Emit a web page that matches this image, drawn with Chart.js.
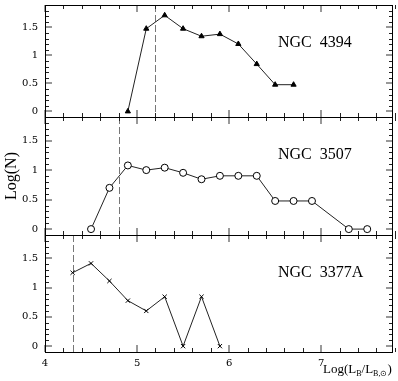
<!DOCTYPE html>
<html>
<head>
<meta charset="UTF-8">
<title>Log(N) vs Log(L_B)</title>
<script src="https://cdn.jsdelivr.net/npm/chart.js"></script>
<style>
    body { margin: 0; background: #fff; }
    #wrap { position: relative; width: 398px; height: 381px; }
    #wrap canvas { position: absolute; left: 0; top: 0; }
</style>
</head>
<body>
<div id="wrap">
    <canvas id="c1" width="398" height="381"></canvas>
    <canvas id="c2" width="398" height="381"></canvas>
    <canvas id="c3" width="398" height="381"></canvas>
</div>
<script>
// data
const galaxies = ['NGC  4394', 'NGC  3507', 'NGC  3377A'];
const logL4394 = [4.9, 5.1, 5.3, 5.5, 5.7, 5.9, 6.1, 6.3, 6.5, 6.7];
const logN4394 = [0, 1.477, 1.716, 1.477, 1.342, 1.380, 1.204, 0.845, 0.477, 0.477];
const logL3507 = [4.5, 4.7, 4.9, 5.1, 5.3, 5.5, 5.7, 5.9, 6.1, 6.3, 6.5, 6.7, 6.9, 7.3, 7.5];
const logN3507 = [0, 0.699, 1.079, 1.0, 1.041, 0.954, 0.845, 0.903, 0.903, 0.903, 0.477, 0.477, 0.477, 0, 0];
const logL3377 = [4.3, 4.5, 4.7, 4.9, 5.1, 5.3, 5.5, 5.7, 5.9];
const logN3377 = [1.255, 1.415, 1.114, 0.778, 0.602, 0.845, 0, 0.845, 0];
const limits = [5.2, 4.8, 4.3];       // dashed completeness lines
const xTicks = [4, 5, 6, 7];
const yTicks = [0, 0.5, 1, 1.5];

const serif = '"Liberation Serif", "Times New Roman", serif';

// inward ticks, frame, dashed line and the texts
const framePlugin = {
    id: 'frame',
    beforeDatasetsDraw(chart, args, opts) {
        const ctx = chart.ctx, a = chart.chartArea;
        const px = Math.round(chart.scales.x.getPixelForValue(opts.limit)) + 0.5;
        ctx.save();
        ctx.strokeStyle = '#777';
        ctx.lineWidth = 1;
        ctx.setLineDash([7, 3]);
        ctx.beginPath();
        ctx.moveTo(px, a.top);
        ctx.lineTo(px, a.bottom);
        ctx.stroke();
        ctx.restore();
    },
    afterDraw(chart, args, opts) {
        const ctx = chart.ctx, a = chart.chartArea;
        const xs = chart.scales.x, ys = chart.scales.y;
        ctx.save();
        // x ticks every 0.2, major on integers
        for (let i = 20; i <= 39; i++) {
            const major = i % 5 === 0;
            const p = Math.round(xs.getPixelForValue(i / 5)) + (major ? 0 : 0.5);
            const len = major ? 7 : 4;
            ctx.strokeStyle = major ? '#999' : '#222';
            ctx.lineWidth = major ? 2 : 1;
            ctx.beginPath();
            ctx.moveTo(p, a.bottom); ctx.lineTo(p, a.bottom - len);
            ctx.moveTo(p, a.top); ctx.lineTo(p, a.top + len);
            ctx.stroke();
        }
        // y ticks every 0.1, major every 0.5
        for (let i = 0; i <= 18; i++) {
            const major = i % 5 === 0;
            const p = Math.round(ys.getPixelForValue(i / 10)) + (major ? 0 : 0.5);
            const len = major ? 7 : 4;
            ctx.strokeStyle = major ? '#999' : '#222';
            ctx.lineWidth = major ? 2 : 1;
            ctx.beginPath();
            ctx.moveTo(a.left, p); ctx.lineTo(a.left + len, p);
            ctx.moveTo(a.right, p); ctx.lineTo(a.right - len, p);
            ctx.stroke();
        }
        // frame
        ctx.strokeStyle = '#000';
        ctx.lineWidth = 1;
        ctx.strokeRect(a.left + 0.5, a.top + 0.5, a.right - a.left - 1, a.bottom - a.top);

        ctx.fillStyle = '#000';
        ctx.font = '16px ' + serif;
        ctx.textBaseline = 'alphabetic';
        ctx.textAlign = 'left';
        ctx.fillText(opts.label, 278, a.top + 42);

        if (opts.yTitle) {
            ctx.save();
            ctx.translate(16, (a.top + a.bottom) / 2);
            ctx.rotate(-Math.PI / 2);
            ctx.textAlign = 'center';
            ctx.fillText('Log(N)', 0, 0);
            ctx.restore();
        }
        if (opts.xTitle) {
            let x = 323, y = 373;
            const part = (t, size, dy) => {
                ctx.font = size + 'px ' + serif;
                ctx.fillText(t, x, y + dy);
                x += ctx.measureText(t).width;
            };
            part('Log(L', 13, 0);
            part('B', 8, 3);
            part('/L', 13, 0);
            part('B,\u2299', 8, 3);
            part(')', 13, 0);
        }
        ctx.restore();
    }
};

function makePanel(id, xs, ys, style, label, limit, top, bottom, showX, yTitle) {
    const pointOpts = {
        triangle: { pointStyle: 'triangle', pointRadius: 3, pointBackgroundColor: '#000', pointBorderColor: '#000' },
        circle: { pointStyle: 'circle', pointRadius: 3.5, pointBackgroundColor: '#fff', pointBorderColor: '#000' },
        cross: { pointStyle: 'crossRot', pointRadius: 3, pointBackgroundColor: '#000', pointBorderColor: '#000' }
    }[style];
    const points = xs.map((v, i) => ({ x: v, y: ys[i] }));
    const zeroPad = s => { s.paddingTop = 0; s.paddingBottom = 0; s.paddingLeft = 0; s.paddingRight = 0; };
    new Chart(document.getElementById(id), {
        type: 'line',
        data: {
            datasets: [Object.assign({
                data: points,
                borderColor: '#222',
                borderWidth: 1,
                pointBorderWidth: 1,
                tension: 0,
                clip: false
            }, pointOpts)]
        },
        options: {
            responsive: false,
            animation: false,
            events: [],
            layout: { padding: { top: top, bottom: bottom, left: 0, right: 3 } },
            plugins: {
                legend: { display: false },
                tooltip: { enabled: false },
                frame: { label: label, limit: limit, yTitle: yTitle, xTitle: showX }
            },
            scales: {
                x: {
                    type: 'linear',
                    min: 4, max: 7.78,
                    display: showX,
                    grid: { display: false, drawTicks: false },
                    border: { display: false },
                    afterBuildTicks: s => { s.ticks = xTicks.map(v => ({ value: v })); },
                    ticks: {
                        font: { family: '"DejaVu Serif", serif', size: 10 }, color: '#000', padding: 5, maxRotation: 0,
                        callback: v => String(v)
                    },
                    afterFit: s => { s.height = showX ? 29 : 0; zeroPad(s); }
                },
                y: {
                    min: -0.1, max: 1.9,
                    grid: { display: false, drawTicks: false },
                    border: { display: false },
                    afterBuildTicks: s => { s.ticks = yTicks.map(v => ({ value: v })); },
                    ticks: {
                        font: { family: '"DejaVu Serif", serif', size: 10 }, color: '#000', padding: 7,
                        callback: v => String(v)
                    },
                    afterFit: s => { s.width = 45; zeroPad(s); }
                }
            }
        },
        plugins: [framePlugin]
    });
}

makePanel('c1', logL4394, logN4394, 'triangle', galaxies[0], limits[0], 0, 264, false, false);
makePanel('c2', logL3507, logN3507, 'circle', galaxies[1], limits[1], 117, 146, false, true);
makePanel('c3', logL3377, logN3377, 'cross', galaxies[2], limits[2], 235, 0, true, false);
</script>
</body>
</html>
